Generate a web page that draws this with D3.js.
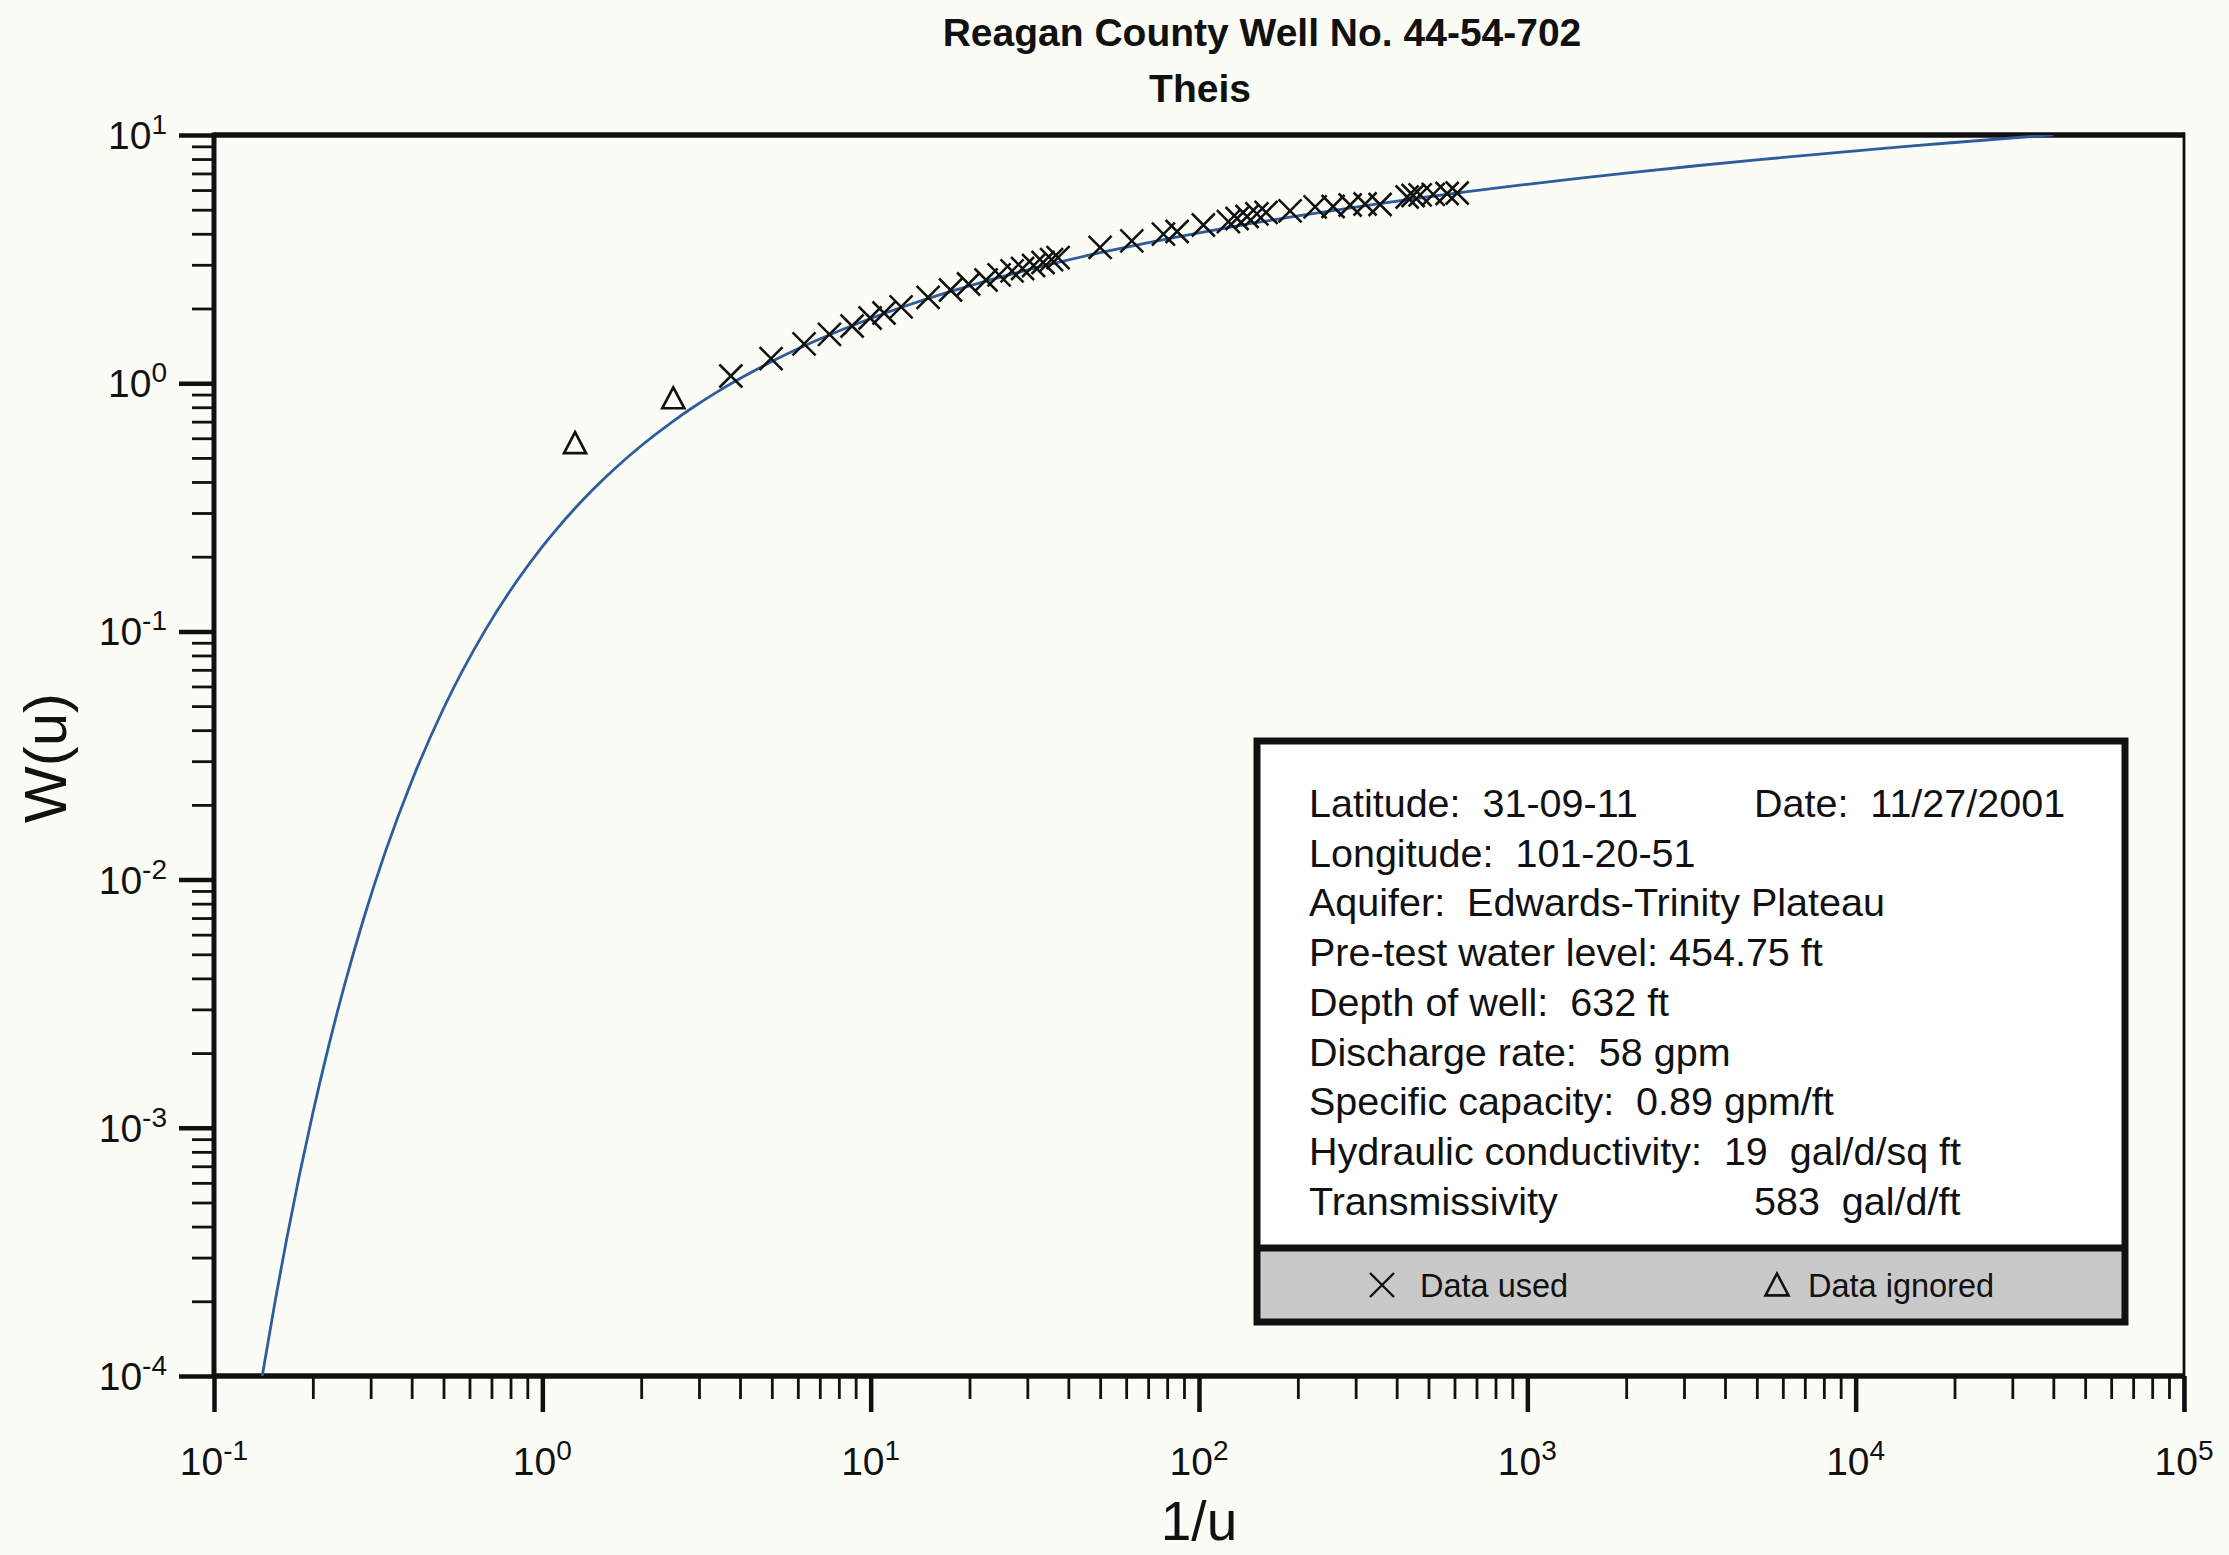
<!DOCTYPE html>
<html><head><meta charset="utf-8">
<script src="https://cdn.jsdelivr.net/npm/d3@7"></script>
<style>
html,body{margin:0;padding:0;background:#fcfcf7;}
svg{display:block;font-family:"Liberation Sans",Arial,Helvetica,sans-serif;}
</style></head><body>
<svg id="chart" width="2229" height="1555"></svg>
<script>
// ---- data ----
const titleLines = ["Reagan County Well No. 44-54-702", "Theis"];
const xLabel = "1/u";
const yLabel = "W(u)";
const xTickExps = [-1, 0, 1, 2, 3, 4, 5];
const yTickExps = [-4, -3, -2, -1, 0, 1];

// Theis type curve (tabulated W(u) vs 1/u)
const curveInvU = [0.1403, 0.1429, 0.1538, 0.1667, 0.1818, 0.2, 0.2222, 0.25, 0.2857, 0.3333, 0.4, 0.5, 0.6667,
  0.8333, 1.0, 1.111, 1.25, 1.429, 1.667, 2.0, 2.857, 2.5, 3.333, 4.0, 5.0, 6.667, 10, 12.5, 16.67, 20, 25,
  33.33, 50, 66.67, 100, 142.9, 200, 333.3, 500, 666.7, 1000, 1429, 2000, 3333, 5000, 10000, 14286, 20000, 33333, 40000];
const curveW = [1.0e-4, 1.155e-4, 2.03e-4, 3.601e-4, 6.40e-4, 1.148e-3, 2.07e-3, 3.779e-3, 6.970e-3, 1.305e-2, 2.491e-2, 4.890e-2, 1.000e-1,
  0.1584, 0.2194, 0.2602, 0.3106, 0.3738, 0.4544, 0.5598, 0.7942, 0.7024, 0.9057, 1.0443, 1.2227, 1.4645, 1.8229, 2.0269, 2.2953, 2.4679, 2.6813,
  2.9591, 3.3547, 3.6374, 4.0379, 4.3916, 4.7261, 5.2349, 5.6394, 5.9266, 6.3315, 6.6879, 7.0242, 7.5348, 7.9402, 8.6332, 8.9899, 9.3263, 9.8371, 10.019];

// data used (×)
const usedInvU = [3.752, 4.973, 6.268, 7.490, 8.779, 9.96, 10.98, 12.38, 14.96, 17.51, 19.87, 22.46, 24.61, 26.96, 29.02,
  31.35, 33.50, 35.56, 37.22, 49.98, 62.42, 77.92, 85.77, 103.1, 122.9, 130.6, 140.1, 150.1, 160.1, 189.4, 225.8,
  256.1, 288.6, 320.5, 356.1, 430.4, 448.9, 471.5, 516.8, 569.9, 611.3];
const usedW = [1.069, 1.257, 1.441, 1.574, 1.700, 1.831, 1.918, 2.028, 2.215, 2.374, 2.510, 2.605, 2.729, 2.832, 2.898,
  2.980, 3.064, 3.150, 3.209, 3.522, 3.741, 3.991, 4.085, 4.339, 4.474, 4.609, 4.695, 4.806, 4.874, 4.942, 5.128,
  5.151, 5.224, 5.272, 5.248, 5.626, 5.705, 5.732, 5.759, 5.812, 5.839];

// data ignored (△)
const ignoredInvU = [1.258, 2.505];
const ignoredW = [0.573, 0.869];

const infoLeft = ["Latitude:  31-09-11", "Longitude:  101-20-51", "Aquifer:  Edwards-Trinity Plateau",
  "Pre-test water level: 454.75 ft", "Depth of well:  632 ft", "Discharge rate:  58 gpm",
  "Specific capacity:  0.89 gpm/ft", "Hydraulic conductivity:  19  gal/d/sq ft", "Transmissivity"];
const infoRight = ["Date:  11/27/2001", "", "", "", "", "", "", "", "583  gal/d/ft"];
const legendLabels = ["Data used", "Data ignored"];

// ---- drawing ----
const svg = d3.select("#chart");
const L = 214, R = 2184, T = 135, B = 1376;
const x = d3.scaleLog().domain([0.1, 1e5]).range([L, R]);
const y = d3.scaleLog().domain([1e-4, 10]).range([B, T]);
const ink = "#111";

svg.append("rect").attr("width", 2229).attr("height", 1555).attr("fill", "#fcfcf7");

// title
svg.append("text").attr("x", 1262).attr("y", 46).attr("text-anchor", "middle")
  .attr("font-size", 39).attr("font-weight", "bold").attr("fill", ink).text(titleLines[0]);
svg.append("text").attr("x", 1200).attr("y", 102).attr("text-anchor", "middle")
  .attr("font-size", 39).attr("font-weight", "bold").attr("fill", ink).text(titleLines[1]);

// minor / major tick values
const xMinor = [], yMinor = [];
for (let e = -1; e < 5; e++) for (let k = 2; k <= 9; k++) xMinor.push(k * Math.pow(10, e));
for (let e = -4; e < 1; e++) for (let k = 2; k <= 9; k++) yMinor.push(k * Math.pow(10, e));
const xMajor = xTickExps.map(e => Math.pow(10, e));
const yMajor = yTickExps.map(e => Math.pow(10, e));

function styleAxis(g, w) {
  g.select(".domain").remove();
  g.selectAll("line").attr("stroke", ink).attr("stroke-width", w);
  g.selectAll("text").remove();
}
svg.append("g").attr("transform", `translate(0,${B})`)
  .call(d3.axisBottom(x).tickValues(xMinor).tickSize(23).tickFormat(""))
  .call(g => styleAxis(g, 2.8));
svg.append("g").attr("transform", `translate(0,${B})`)
  .call(d3.axisBottom(x).tickValues(xMajor).tickSize(36).tickFormat(""))
  .call(g => styleAxis(g, 4.5));
svg.append("g").attr("transform", `translate(${L},0)`)
  .call(d3.axisLeft(y).tickValues(yMinor).tickSize(22).tickFormat(""))
  .call(g => styleAxis(g, 2.8));
svg.append("g").attr("transform", `translate(${L},0)`)
  .call(d3.axisLeft(y).tickValues(yMajor).tickSize(35).tickFormat(""))
  .call(g => styleAxis(g, 4.5));

// frame
svg.append("line").attr("x1", L).attr("x2", R + 1).attr("y1", T).attr("y2", T).attr("stroke", ink).attr("stroke-width", 5.5);
svg.append("line").attr("x1", L).attr("x2", R + 1).attr("y1", B).attr("y2", B).attr("stroke", ink).attr("stroke-width", 5.5);
svg.append("line").attr("x1", L).attr("x2", L).attr("y1", T - 2.5).attr("y2", B + 2.5).attr("stroke", ink).attr("stroke-width", 5);
svg.append("line").attr("x1", R).attr("x2", R).attr("y1", T - 2.5).attr("y2", B + 36).attr("stroke", ink).attr("stroke-width", 2.8);

// tick labels
xTickExps.forEach(e => {
  const t = svg.append("text").attr("x", x(Math.pow(10, e))).attr("y", 1475)
    .attr("text-anchor", "middle").attr("font-size", 39).attr("fill", ink);
  t.append("tspan").text("10");
  t.append("tspan").attr("dy", -15).attr("font-size", 28).text(String(e));
});
yTickExps.forEach(e => {
  const t = svg.append("text").attr("x", 167).attr("y", y(Math.pow(10, e)) + 14)
    .attr("text-anchor", "end").attr("font-size", 39).attr("fill", ink);
  t.append("tspan").text("10");
  t.append("tspan").attr("dy", -15).attr("font-size", 28).text(String(e));
});

// axis titles
svg.append("text").attr("x", 1199).attr("y", 1540).attr("text-anchor", "middle")
  .attr("font-size", 55).attr("fill", ink).text(xLabel);
svg.append("text").attr("transform", "translate(66,758) rotate(-90)").attr("text-anchor", "middle")
  .attr("font-size", 60).attr("fill", ink).text(yLabel);

// curve
svg.append("clipPath").attr("id", "plotclip").append("rect")
  .attr("x", L).attr("y", T).attr("width", R - L).attr("height", B - T);
const curvePts = curveInvU.map((v, i) => [v, curveW[i]]).sort((a, b) => a[0] - b[0]);
svg.append("path").attr("clip-path", "url(#plotclip)")
  .attr("d", d3.line().x(d => x(d[0])).y(d => y(d[1])).curve(d3.curveMonotoneX)(curvePts))
  .attr("fill", "none").attr("stroke", "#2d5d9c").attr("stroke-width", 2.8);

// markers
const xs = 11.5;
function crossPath(cx, cy, s) { return `M${cx - s},${cy - s}L${cx + s},${cy + s}M${cx - s},${cy + s}L${cx + s},${cy - s}`; }
function triPath(cx, cy, s) { return `M${cx},${cy - s}L${cx + s},${cy + s * 0.9}L${cx - s},${cy + s * 0.9}Z`; }
svg.append("g").selectAll("path").data(usedInvU.map((v, i) => [v, usedW[i]])).join("path")
  .attr("d", d => crossPath(x(d[0]), y(d[1]), xs))
  .attr("fill", "none").attr("stroke", ink).attr("stroke-width", 2.5);
svg.append("g").selectAll("path").data(ignoredInvU.map((v, i) => [v, ignoredW[i]])).join("path")
  .attr("d", d => triPath(x(d[0]), y(d[1]), 11))
  .attr("fill", "none").attr("stroke", ink).attr("stroke-width", 2.7);

// info box
const bx = 1257, by = 741, bw = 868, bh = 581, div = 1248;
svg.append("rect").attr("x", bx).attr("y", by).attr("width", bw).attr("height", bh)
  .attr("fill", "#ffffff").attr("stroke", "none");
svg.append("rect").attr("x", bx).attr("y", div).attr("width", bw).attr("height", by + bh - div)
  .attr("fill", "#c9c9c9");
svg.append("line").attr("x1", bx).attr("x2", bx + bw).attr("y1", div).attr("y2", div).attr("stroke", ink).attr("stroke-width", 7);
svg.append("rect").attr("x", bx).attr("y", by).attr("width", bw).attr("height", bh)
  .attr("fill", "none").attr("stroke", ink).attr("stroke-width", 7);

infoLeft.forEach((s, i) => {
  svg.append("text").attr("x", 1309).attr("y", 817 + i * 49.7).attr("font-size", 39.5).attr("fill", ink)
    .style("white-space", "pre").text(s);
  if (infoRight[i]) svg.append("text").attr("x", 1754).attr("y", 817 + i * 49.7).attr("font-size", 39.5).attr("fill", ink)
    .style("white-space", "pre").text(infoRight[i]);
});

// legend row
svg.append("path").attr("d", crossPath(1382, 1285, 12)).attr("fill", "none").attr("stroke", ink).attr("stroke-width", 2.4);
svg.append("text").attr("x", 1420).attr("y", 1297).attr("font-size", 32.5).attr("fill", ink).text(legendLabels[0]);
svg.append("path").attr("d", triPath(1777, 1285, 11.5)).attr("fill", "none").attr("stroke", ink).attr("stroke-width", 2.6);
svg.append("text").attr("x", 1808).attr("y", 1297).attr("font-size", 32.5).attr("fill", ink).text(legendLabels[1]);
</script>
</body></html>
